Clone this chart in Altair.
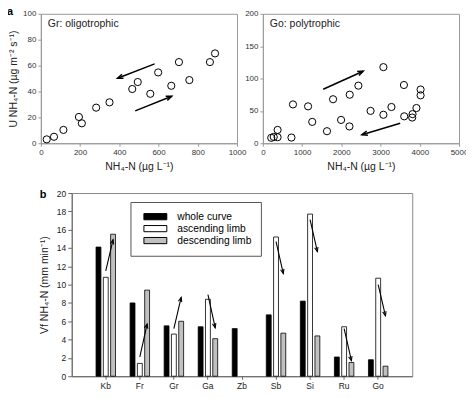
import math
import altair as alt
import pandas as pd

FONT = "Liberation Sans"

# ---------------- data: panel a ----------------
gr_nh4 = [30, 67, 115, 194, 209, 282, 350, 466, 494, 558, 598, 665, 704, 757, 862, 888]
gr_u = [3.0, 5.0, 10.3, 20.3, 15.4, 27.5, 31.6, 41.9, 47.3, 38.2, 54.7, 44.4, 62.7, 48.8, 62.7, 69.4]
go_nh4 = [213, 277, 375, 375, 728, 767, 1152, 1258, 1634, 1789, 1993, 2206, 2214,
          2434, 2745, 3072, 3072, 3277, 3595, 3603, 3806, 3815, 3914, 4020, 4020]
go_u = [8.4, 9.8, 9.3, 20.6, 8.8, 60, 57, 33, 18.6, 68, 36, 26, 75,
        89, 50, 117.6, 44, 56, 90, 41.6, 39.7, 45, 54.4, 83, 74]

gr_arrow_x0 = [580, 481]
gr_arrow_y0 = [61.3, 25.0]
gr_arrow_x1 = [391, 667]
gr_arrow_y1 = [50.2, 36.3]
go_arrow_x0 = [1537, 3500]
go_arrow_y0 = [83.4, 30.9]
go_arrow_x1 = [2556, 2525]
go_arrow_y1 = [111.3, 13.2]

panel_titles = ["Gr: oligotrophic", "Go: polytrophic"]
panel_letters = ["a", "b"]

# ---------------- data: panel b ----------------
sites = ["Kb", "Fr", "Gr", "Ga", "Zb", "Sb", "Si", "Ru", "Go"]
series_names = ["whole curve", "ascending limb", "descending limb"]
vf_whole = [14.1, 8.0, 5.5, 5.4, 5.2, 6.7, 8.2, 2.1, 1.8]
vf_asc = [10.8, 1.4, 4.6, 8.4, None, 15.2, 17.7, 5.4, 10.7]
vf_desc = [15.5, 9.4, 6.0, 4.1, None, 4.7, 4.4, 1.5, 1.1]
arrow_sites = ["Kb", "Fr", "Gr", "Ga", "Sb", "Si", "Ru", "Go"]
arrow_from = [11.5, 2.1, 5.2, 8.9, 14.7, 17.1, 5.2, 10.0]
arrow_to = [14.9, 5.7, 8.6, 5.3, 11.2, 13.6, 1.7, 6.6]

# ---------------- layout / style ----------------
W1, W2, H1 = 197, 197, 130
WB, HB = 342, 184
OFF_PI, OFF_PO = 0.33, 1.0
ARROW = "M-0.55,1.4L0,0L0.55,1.4"
LEG_SYM = "M-1,-0.27H1V0.27H-1Z"
XT = "NH\u2084-N (\u00b5g L\u207b\u00b9)"
YT = "U NH\u2084-N (\u00b5g m\u207b\u00b2 s\u207b\u00b9)"
YB = "Vf NH\u2084-N (mm min\u207b\u00b9)"


def ang(dx, dy):
    return (math.degrees(math.atan2(dx, dy)) + 360) % 360


def scatter_panel(xs, ys, ax0, ay0, ax1, ay1, xmax, xstep, ymax, ystep,
                  title, W, H, ytitle, letter=None):
    xscale = alt.Scale(domain=[0, xmax], nice=False)
    yscale = alt.Scale(domain=[0, ymax], nice=False)
    ax_common = dict(grid=False, tickSize=3, domainColor="#999", tickColor="#999",
                     labelFontSize=8, labelColor="#333", titleFontSize=10.5,
                     titleColor="#222", titleFontWeight="normal", labelPadding=2,
                     format="d")
    xaxis = alt.Axis(values=list(range(0, xmax + 1, xstep)), title=XT,
                     labelFlush=False, titlePadding=5, **ax_common)
    if ytitle:
        yaxis = alt.Axis(values=list(range(0, ymax + 1, ystep)), title=ytitle,
                         titlePadding=4, **ax_common)
    else:
        yaxis = alt.Axis(values=list(range(0, ymax + 1, ystep)), title=None,
                         **ax_common)

    def X(f):
        return alt.X(f, scale=xscale, axis=xaxis)

    def Y(f):
        return alt.Y(f, scale=yscale, axis=yaxis)

    pts = pd.DataFrame({"x": xs, "y": ys})
    arr = pd.DataFrame({"x": ax0, "y": ay0, "x2": ax1, "y2": ay1})
    arr["ang"] = [ang((b - a) * W / xmax, (d - c) * H / ymax)
                  for a, b, c, d in zip(ax0, ax1, ay0, ay1)]

    layers = [
        alt.Chart(pts).mark_point(shape="circle", filled=False, color="black",
                                  strokeWidth=1, size=52, opacity=1)
        .encode(x=X("x:Q"), y=Y("y:Q")),
        alt.Chart(arr).mark_rule(color="black", strokeWidth=1.5)
        .encode(x=X("x:Q"), y=Y("y:Q"), x2="x2:Q", y2="y2:Q"),
        alt.Chart(arr).mark_point(shape=ARROW, filled=False, color="black",
                                  strokeWidth=1.5, size=64, opacity=1)
        .encode(x=X("x2:Q"), y=Y("y2:Q"), angle=alt.Angle("ang:Q", scale=None)),
        alt.Chart(pd.DataFrame({"t": [title]})).mark_text(
            align="left", baseline="alphabetic", fontSize=10.5, color="#222")
        .encode(x=alt.value(7), y=alt.value(13), text="t:N"),
    ]
    if letter:
        layers.append(
            alt.Chart(pd.DataFrame({"t": [letter]})).mark_text(
                align="left", baseline="alphabetic", fontSize=11,
                fontWeight="bold", color="black")
            .encode(x=alt.value(-34), y=alt.value(1), text="t:N"))
    return alt.layer(*layers).properties(
        width=W, height=H, view=alt.ViewBackground(stroke="#999"))


left = scatter_panel(gr_nh4, gr_u, gr_arrow_x0, gr_arrow_y0, gr_arrow_x1, gr_arrow_y1,
                     1000, 200, 100, 20, panel_titles[0], W1, H1, YT, panel_letters[0])
right = scatter_panel(go_nh4, go_u, go_arrow_x0, go_arrow_y0, go_arrow_x1, go_arrow_y1,
                      5000, 1000, 200, 50, panel_titles[1], W2, H1, None)

# ---------------- panel b ----------------
rows = []
for s, a, b, c in zip(sites, vf_whole, vf_asc, vf_desc):
    for name, v in zip(series_names, [a, b, c]):
        if v is not None:
            rows.append({"site": s, "series": name, "value": v})
bar_df = pd.DataFrame(rows)

xb_scale = alt.Scale(domain=sites, paddingInner=0, paddingOuter=0.5)
off_scale = alt.Scale(domain=series_names, paddingInner=OFF_PI, paddingOuter=OFF_PO)
yb_scale = alt.Scale(domain=[0, 20], nice=False)
xb_axis = alt.Axis(title=None, labelAngle=0, tickSize=3, domainColor="#666",
                   tickColor="#666", labelFontSize=8.5, labelColor="#222",
                   labelPadding=2, grid=False)
yb_axis = alt.Axis(values=list(range(0, 21, 2)), title=YB, tickSize=4,
                   domainColor="#666", tickColor="#666", labelFontSize=8.5,
                   labelColor="#222", labelPadding=2, titleFontSize=10.5,
                   titleColor="#222", titleFontWeight="normal", titlePadding=7,
                   grid=False)


def XB():
    return alt.X("site:N", sort=sites, scale=xb_scale, axis=xb_axis)


def XO():
    return alt.XOffset("series:N", scale=off_scale, sort=series_names)


def YBE(f):
    return alt.Y(f, scale=yb_scale, axis=yb_axis)


bars = alt.Chart(bar_df).mark_bar(stroke="black", strokeWidth=0.8).encode(
    x=XB(),
    xOffset=XO(),
    y=YBE("value:Q"),
    color=alt.Color("series:N", sort=series_names,
                    scale=alt.Scale(domain=series_names,
                                    range=["black", "white", "#c0c0c0"]),
                    legend=alt.Legend(title="\u00a0" * 8,
                                      titleOrient="right", titleFontSize=10,
                                      titlePadding=1,
                                      orient="none", legendX=59,
                                      legendY=9, direction="vertical",
                                      strokeColor="#555", fillColor="white",
                                      padding=9, symbolType=LEG_SYM,
                                      symbolSize=529, symbolStrokeColor="black",
                                      symbolStrokeWidth=1, symbolOffset=4,
                                      labelFontSize=10.3, labelColor="black",
                                      labelOffset=10, clipHeight=11.5,
                                      rowPadding=0)),
)

# pixel distance between the ascending and descending bar centres
step_o = WB / len(sites) / (3 - OFF_PI + 2 * OFF_PO)
arows = []
for s, f, t in zip(arrow_sites, arrow_from, arrow_to):
    a = ang(step_o, (t - f) * HB / 20)
    arows.append({"site": s, "series": series_names[1], "value": f, "k": 0, "ang": a})
    arows.append({"site": s, "series": series_names[2], "value": t, "k": 1, "ang": a})
arr_b = pd.DataFrame(arows)

arrow_lines = alt.Chart(arr_b).mark_line(color="black", strokeWidth=1.1).encode(
    x=XB(), xOffset=XO(), y=YBE("value:Q"), detail="site:N", order="k:Q")
arrow_heads = alt.Chart(arr_b).transform_filter("datum.k == 1").mark_point(
    shape=ARROW, filled=False, color="black", strokeWidth=1.1, size=40, opacity=1
).encode(x=XB(), xOffset=XO(), y=YBE("value:Q"),
         angle=alt.Angle("ang:Q", scale=None))
letter_b = alt.Chart(pd.DataFrame({"t": [panel_letters[1]]})).mark_text(
    align="left", baseline="alphabetic", fontSize=11, fontWeight="bold",
    color="black").encode(x=alt.value(-32), y=alt.value(5), text="t:N")

bottom_chart = alt.layer(bars, arrow_lines, arrow_heads, letter_b).properties(
    width=WB, height=HB, view=alt.ViewBackground(stroke="#888"))

spacer = alt.Chart(pd.DataFrame({"v": [0]})).mark_point(opacity=0).encode(
    x=alt.X("v:Q", axis=None), y=alt.Y("v:Q", axis=None)
).properties(width=1, height=1, view=alt.ViewBackground(stroke=None))

top = alt.hconcat(left, right, spacing=26, bounds="flush")
bottom = alt.hconcat(spacer, bottom_chart, spacing=30, bounds="flush").resolve_scale(
    color="independent").resolve_legend(color="independent")

chart = alt.vconcat(top, bottom, spacing=16).resolve_scale(
    color="independent").resolve_legend(color="independent").properties(
    padding={"left": -2, "top": -4, "right": -3, "bottom": 0}
).configure(font=FONT)

chart.save("out.html", embed_options={"renderer": "svg", "actions": False})
